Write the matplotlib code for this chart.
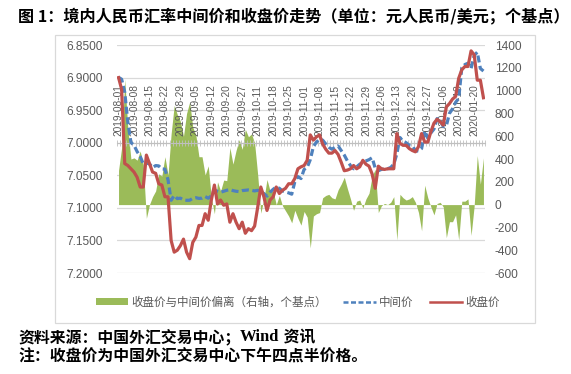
import matplotlib
matplotlib.use('Agg')
import matplotlib.pyplot as plt
from matplotlib.patches import Patch, Rectangle
from matplotlib.lines import Line2D
from matplotlib.ticker import FixedLocator, NullFormatter
import numpy as np

plt.rcParams['font.family'] = ['Noto Sans CJK SC', 'DejaVu Sans']

title = '图 1：境内人民币汇率中间价和收盘价走势（单位：元人民币/美元；个基点）'
source_a = '资料来源：中国外汇交易中心；'
source_b = 'Wind'
source_c = ' 资讯'
note = '注：收盘价为中国外汇交易中心下午四点半价格。'

# category labels shown every 5 trading days
tick_labels = ['2019-08-01', '2019-08-08', '2019-08-15', '2019-08-22', '2019-08-29',
               '2019-09-05', '2019-09-12', '2019-09-20', '2019-09-27', '2019-10-11',
               '2019-10-18', '2019-10-25', '2019-11-01', '2019-11-08', '2019-11-15',
               '2019-11-22', '2019-11-29', '2019-12-06', '2019-12-13', '2019-12-20',
               '2019-12-27', '2020-01-06', '2020-01-13', '2020-01-20']

# 中间价 (central parity)
mid = [6.8996, 6.9026, 6.9225, 6.9683, 6.9996, 7.0039, 7.0136, 7.0211, 7.0326, 7.0312,
       7.0325, 7.0382, 7.0351, 7.0356, 7.0402, 7.0406, 7.0570, 7.0884, 7.0810, 7.0858,
       7.0851, 7.0879, 7.0884, 7.0883, 7.0853, 7.0844, 7.0855, 7.0851, 7.0826, 7.0852,
       7.0816, 7.0730, 7.0745, 7.0760, 7.0745, 7.0730, 7.0720, 7.0735, 7.0745, 7.0750,
       7.0735, 7.0730, 7.0725, 7.0730, 7.0740, 7.0730, 7.0756, 7.0780, 7.0820, 7.0760,
       7.0715, 7.0680, 7.0700, 7.0740, 7.0756, 7.0770, 7.0790, 7.0600, 7.0520, 7.0550,
       7.0410, 7.0380, 7.0260, 7.0060, 6.9990, 6.9950, 6.9960, 7.0020, 7.0070, 7.0100,
       7.0070, 7.0050, 7.0120, 7.0190, 7.0280, 7.0350, 7.0400, 7.0370, 7.0330, 7.0300,
       7.0280, 7.0260, 7.0230, 7.0390, 7.0430, 7.0410, 7.0400, 7.0400, 7.0380, 7.0330,
       7.0170, 6.9920, 6.9980, 7.0000, 7.0040, 7.0050, 7.0120, 7.0130, 7.0090, 6.9820,
       6.9930, 6.9850, 6.9790, 6.9630, 6.9660, 6.9750, 6.9740, 6.9550, 6.9480, 6.9380,
       6.9320, 6.8850, 6.8800, 6.8780, 6.8860, 6.8660, 6.8610, 6.8860, 6.8900]

# 收盘价 (16:30 close)
close = [6.9000, 6.9180, 7.0320, 7.0350, 7.0400, 7.0450, 7.0530, 7.0680, 7.0680, 7.0190,
         7.0320, 7.0450, 7.0470, 7.0630, 7.0650, 7.0830, 7.0830, 7.1500, 7.1680, 7.1650,
         7.1580, 7.1480, 7.1680, 7.1780, 7.1530, 7.1450, 7.1270, 7.1270, 7.1090, 7.1190,
         7.0880, 7.0650, 7.0940, 7.0880, 7.0960, 7.0940, 7.1220, 7.1090, 7.1220, 7.1320,
         7.1220, 7.1390, 7.1320, 7.1350, 7.1280, 7.0990, 7.0680, 7.0830, 7.1040, 7.0880,
         7.0830, 7.0680, 7.0780, 7.0730, 7.0700, 7.0630, 7.0630, 7.0550, 7.0400, 7.0370,
         7.0350, 7.0270, 6.9880, 6.9960, 6.9910, 6.9880, 7.0020, 7.0100, 7.0160, 7.0160,
         7.0120, 7.0180, 7.0300, 7.0430, 7.0420, 7.0400, 7.0350, 7.0400, 7.0370, 7.0270,
         7.0330, 7.0360, 7.0480, 7.0700, 7.0360, 7.0400, 7.0410, 7.0400, 7.0400, 7.0400,
         6.9860, 7.0010, 7.0040, 7.0040, 7.0090, 7.0120, 7.0140, 7.0060, 6.9860, 6.9990,
         6.9990, 6.9830, 6.9700, 6.9640, 6.9680, 6.9730, 6.9450, 6.9400, 6.9330, 6.9290,
         6.9010, 6.8880, 6.8830, 6.8830, 6.8590, 6.8650, 6.9040, 6.9040, 6.9310]

# 收盘价与中间价偏离 (basis points, right axis)
dev = [300, 500, 1100, 670, 400, 410, 390, 470, 350, -120,
       0, 70, 120, 270, 250, 420, 260, 620, 870, 790,
       730, 600, 800, 900, 680, 610, 420, 420, 260, 340,
       60, -80, 200, 120, 215, 210, 500, 355, 475, 570,
       485, 660, 595, 620, 540, 260, -75, 50, 220, 120,
       115, 0, 80, -10, -55, -100, -160, -50, -120, -180,
       -60, -110, -380, -100, -80, -70, 60, 80, 90, 60,
       50, 130, 180, 240, 140, 50, -50, 30, 40, -30,
       50, 100, 250, 310, -70, -10, 10, 0, 20, 70,
       -310, 90, 60, 40, 50, 70, 20, -70, -230, 170,
       60, -20, -90, 10, 20, -20, -290, -150, -150, -90,
       -310, 30, 30, 50, -270, -10, 430, 180, 410]

left_ticks = [6.85, 6.90, 6.95, 7.00, 7.05, 7.10, 7.15, 7.20]
right_ticks = [-600, -400, -200, 0, 200, 400, 600, 800, 1000, 1200, 1400]

series_names = ['收盘价与中间价偏离（右轴，个基点）', '中间价', '收盘价']

GREEN = '#9BBB59'
BLUE = '#4F81BD'
RED = '#C0504D'
GRAY = '#595959'
GRID = '#D9D9D9'

W, H = 571, 374
fig = plt.figure(figsize=(W / 100, H / 100), dpi=100)
fig.patch.set_facecolor('white')

x = np.arange(len(mid))
rect = [117 / W, 1 - 273 / H, (485 - 117) / W, (273 - 45) / H]

# bottom layer: left axis + grid
ax = fig.add_axes(rect)
ax.set_xlim(-0.5, len(mid) - 0.5)
ax.set_ylim(max(left_ticks), min(left_ticks))
ax.set_yticks(left_ticks)
ax.set_yticklabels([f'{v:.4f}' for v in left_ticks])
ax.tick_params(axis='y', length=0, pad=10, labelsize=8.6, labelcolor=GRAY)
for lab in ax.get_yticklabels():
    lab.set_family('Liberation Sans')
ax.grid(axis='y', color=GRID, lw=0.9)
ax.xaxis.set_visible(False)
for s in ax.spines.values():
    s.set_visible(False)

# middle layer: right axis + area
ax2 = ax.twinx()
ax2.set_ylim(min(right_ticks), max(right_ticks))
ax2.set_yticks(right_ticks)
ax2.set_yticklabels([str(v) for v in right_ticks])
ax2.tick_params(axis='y', length=0, pad=7, labelsize=8.6, labelcolor=GRAY)
for lab in ax2.get_yticklabels():
    lab.set_family('Liberation Sans')
ax2.fill_between(x, 0, dev, color=GREEN, lw=0)
for s in ax2.spines.values():
    s.set_visible(False)

# top layer: lines + category axis
ax3 = ax.twinx()
ax3.set_ylim(max(left_ticks), min(left_ticks))
ax3.yaxis.set_visible(False)
ax3.xaxis.set_visible(True)
for s in ax3.spines.values():
    s.set_visible(False)
ax3.spines['top'].set_visible(True)
ax3.spines['top'].set_position(('data', 7.00))
ax3.spines['top'].set_color('#BFBFBF')
ax3.spines['top'].set_linewidth(0.8)
ax3.xaxis.tick_top()
ax3.xaxis.set_major_locator(FixedLocator(list(range(0, len(mid), 5))[:len(tick_labels)]))
ax3.set_xticklabels(tick_labels, rotation=90)
ax3.xaxis.set_minor_locator(FixedLocator(np.arange(-0.5, len(mid), 1.0)))
ax3.xaxis.set_minor_formatter(NullFormatter())
ax3.tick_params(axis='x', which='major', length=0, pad=5, labelsize=7.3, labelcolor=GRAY)
ax3.tick_params(axis='x', which='minor', length=4, width=0.6, direction='inout', color='#BFBFBF')
for lab in ax3.get_xticklabels():
    lab.set_family('Liberation Sans')

ax3.plot(x, mid, color=BLUE, lw=2.3, ls=(0, (2.2, 1.1)), zorder=3)
ax3.plot(x, close, color=RED, lw=2.3, zorder=4)

# legend
handles = [Patch(facecolor=GREEN, edgecolor='none'),
           Line2D([], [], color=BLUE, lw=1.8, ls=(0, (2.0, 1.0))),
           Line2D([], [], color=RED, lw=1.8)]
leg = fig.legend(handles, series_names, loc='center', bbox_to_anchor=(298 / W, 1 - 302 / H),
                 ncol=3, frameon=False, fontsize=8.3, handlelength=2.8, handleheight=0.55,
                 columnspacing=1.4, handletextpad=0.3, labelcolor=GRAY)

# chart frame
fig.patches.append(Rectangle((55 / W, 1 - 323 / H), (535 - 55) / W, (323 - 35) / H,
                             transform=fig.transFigure, fill=False, edgecolor=GRID, lw=0.9))

# title
fig.text(18 / W, 1 - 17 / H, title, fontsize=11.6, fontweight='bold', ha='left', va='center')

# source lines
t1 = fig.text(18 / W, 1 - 337 / H, source_a, fontsize=11.4, fontweight='bold', ha='left', va='center')
fig.canvas.draw()
bb = t1.get_window_extent()
t2 = fig.text(bb.x1 / W, 1 - 337 / H, source_b, fontsize=12, fontweight='bold',
              family='Liberation Serif', ha='left', va='center')
fig.canvas.draw()
bb2 = t2.get_window_extent()
fig.text(bb2.x1 / W, 1 - 337 / H, source_c, fontsize=11.4, fontweight='bold', ha='left', va='center')
fig.text(18 / W, 1 - 356 / H, note, fontsize=11.4, fontweight='bold', ha='left', va='center')

fig.savefig('out.png', dpi=100)
